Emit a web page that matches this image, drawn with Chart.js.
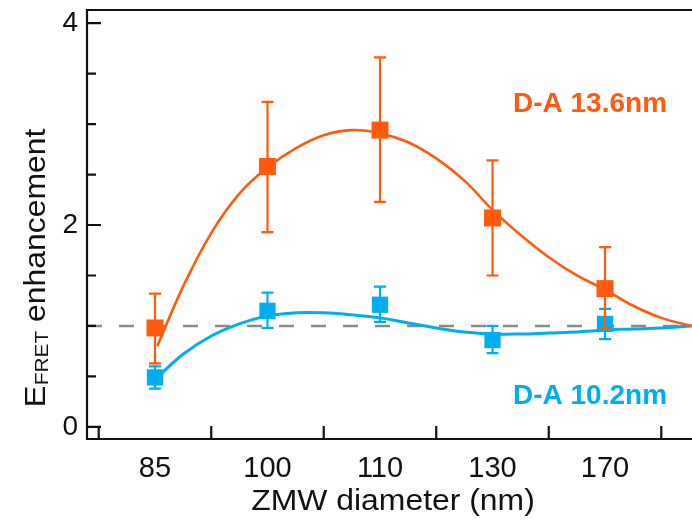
<!DOCTYPE html>
<html>
<head>
<meta charset="utf-8">
<script src="https://cdn.jsdelivr.net/npm/chart.js@4.4.1/dist/chart.umd.min.js"></script>
<style>
html,body{margin:0;padding:0;background:#fff;overflow:hidden;}
canvas{display:block;}
</style>
</head>
<body>
<canvas id="c" width="692" height="527"></canvas>
<script>
// ---- Data ----
const categories = ['85', '100', '110', '130', '170'];
const categoryPos = [0, 1, 2, 3, 4];

// D-A 13.6 nm (orange)
const orangeY  = [0.98, 2.58, 2.94, 2.07, 1.37];
const orangeLo = [0.63, 1.93, 2.23, 1.50, 0.97];
const orangeHi = [1.32, 3.22, 3.66, 2.64, 1.78];
// fitted curve at evenly spaced positions
const orangeFitX = [0.02, 0.25, 0.50, 0.75, 1.00, 1.25, 1.50, 1.75, 2.00, 2.25, 2.50, 2.75, 3.00, 3.25, 3.50, 3.75, 4.00, 4.25, 4.50, 4.77];
const orangeFitY = [0.80, 1.39, 1.92, 2.31, 2.57, 2.76, 2.89, 2.94, 2.91, 2.82, 2.66, 2.44, 2.15, 1.90, 1.68, 1.50, 1.36, 1.20, 1.08, 1.00];

// D-A 10.2 nm (blue)
const blueY  = [0.49, 1.15, 1.21, 0.86, 1.02];
const blueLo = [0.38, 0.98, 1.04, 0.73, 0.87];
const blueHi = [0.60, 1.33, 1.39, 1.00, 1.17];
const blueFitX = [0.02, 0.25, 0.50, 0.75, 1.00, 1.25, 1.50, 1.75, 2.00, 2.25, 2.50, 2.75, 3.00, 3.25, 3.50, 3.75, 4.00, 4.25, 4.50, 4.77];
const blueFitY = [0.49, 0.72, 0.90, 1.02, 1.10, 1.13, 1.13, 1.11, 1.08, 1.03, 0.98, 0.94, 0.92, 0.92, 0.93, 0.94, 0.96, 0.97, 0.98, 1.00];

const refLevel = 1;
const yTickLabels = [0, 2, 4];
const yMinorStep = 0.5;

const ORANGE = '#FF5A0E';
const BLUE = '#00AEEF';
const FONT = '"Liberation Sans", Arial, Helvetica, sans-serif';

const X_MIN = -0.604, X_MAX = 4.773;
const Y_MIN = -0.12, Y_MAX = 4.13;

const pts = (xs, ys) => xs.map((x, i) => ({x, y: ys[i]}));

const errorBars = {
  id: 'errorBars',
  beforeDatasetDraw(chart, args) {
    const ds = chart.data.datasets[args.index];
    if (!ds.err) return;
    const {ctx, scales: {x, y}} = chart;
    ctx.save();
    ctx.strokeStyle = ds.borderColor;
    ctx.lineWidth = 2.2;
    ds.err.lo.forEach((lo, i) => {
      const px = x.getPixelForValue(ds.data[i].x);
      const pLo = y.getPixelForValue(lo);
      const pHi = y.getPixelForValue(ds.err.hi[i]);
      ctx.beginPath();
      ctx.moveTo(px, pLo); ctx.lineTo(px, pHi);
      ctx.moveTo(px - 6, pLo); ctx.lineTo(px + 6, pLo);
      ctx.moveTo(px - 6, pHi); ctx.lineTo(px + 6, pHi);
      ctx.stroke();
    });
    ctx.restore();
  }
};

const frame = {
  id: 'frame',
  afterDraw(chart) {
    const {ctx, chartArea: a, scales: {x, y}} = chart;
    ctx.save();
    ctx.strokeStyle = '#111';
    ctx.lineWidth = 2.2;
    ctx.beginPath();
    ctx.moveTo(a.right + 2, a.top);
    ctx.lineTo(a.left, a.top);
    ctx.lineTo(a.left, a.bottom);
    ctx.lineTo(a.right + 2, a.bottom);
    ctx.stroke();
    // y ticks (inward)
    ctx.beginPath();
    for (let v = 0; v <= 4 + 1e-9; v += yMinorStep) {
      const py = y.getPixelForValue(v);
      const major = yTickLabels.includes(v);
      ctx.moveTo(a.left, py);
      ctx.lineTo(a.left + (major ? 14 : 9), py);
    }
    // x ticks between categories (inward)
    for (let v = -0.5; v <= 4.5 + 1e-9; v += 1) {
      const px = x.getPixelForValue(v);
      ctx.moveTo(px, a.bottom);
      ctx.lineTo(px, a.bottom - 13);
    }
    ctx.stroke();

    // labels for series
    ctx.font = 'bold 28px ' + FONT;
    ctx.textBaseline = 'middle';
    ctx.textAlign = 'left';
    ctx.fillStyle = ORANGE;
    ctx.fillText('D-A 13.6nm', 513, 104);
    ctx.fillStyle = BLUE;
    ctx.fillText('D-A 10.2nm', 513, 396);

    // x title (slightly wide lettering)
    ctx.fillStyle = '#111';
    ctx.save();
    ctx.translate(393, 502);
    ctx.scale(1.1, 1);
    ctx.font = '29px ' + FONT;
    ctx.textAlign = 'center';
    ctx.fillText('ZMW diameter (nm)', 0, 0);
    ctx.restore();

    // y title with subscript
    ctx.save();
    ctx.translate(45, 268);
    ctx.rotate(-Math.PI / 2);
    ctx.scale(1.1, 1);
    ctx.textBaseline = 'alphabetic';
    ctx.textAlign = 'left';
    const fBig = '30px ' + FONT, fSub = '19px ' + FONT, fMain = '29px ' + FONT;
    ctx.font = fBig; const wE = ctx.measureText('E').width;
    ctx.font = fSub; const wF = ctx.measureText('FRET').width;
    ctx.font = fMain; const wR = ctx.measureText(' enhancement').width;
    let sx = -(wE + wF + wR) / 2;
    ctx.font = fBig; ctx.fillText('E', sx, 0); sx += wE;
    ctx.font = fSub; ctx.fillText('FRET', sx, 3); sx += wF;
    ctx.font = fMain; ctx.fillText(' enhancement', sx, 0);
    ctx.restore();
    ctx.restore();
  }
};

const noPad = s => { s.paddingLeft = 0; s.paddingRight = 0; s.paddingTop = 0; s.paddingBottom = 0; };

new Chart(document.getElementById('c'), {
  type: 'line',
  data: {
    datasets: [
      { label: 'orangeFit', data: pts(orangeFitX, orangeFitY), borderColor: ORANGE, borderWidth: 2.6,
        pointRadius: 0, tension: 0.4, fill: false },
      { label: 'orange', data: pts(categoryPos, orangeY), showLine: false, borderColor: ORANGE,
        backgroundColor: ORANGE, pointStyle: 'rect', pointRadius: 12, pointBorderWidth: 0,
        err: {lo: orangeLo, hi: orangeHi} },
      { label: 'blueFit', data: pts(blueFitX, blueFitY), borderColor: BLUE, borderWidth: 3,
        pointRadius: 0, tension: 0.4, fill: false },
      { label: 'blue', data: pts(categoryPos, blueY), showLine: false, borderColor: BLUE,
        backgroundColor: BLUE, pointStyle: 'rect', pointRadius: 11.5, pointBorderWidth: 0,
        err: {lo: blueLo, hi: blueHi} },
      { label: 'ref', data: [{x: X_MIN, y: refLevel}, {x: X_MAX, y: refLevel}], borderColor: '#8a8a8a',
        borderWidth: 2.5, borderDash: [15, 17], pointRadius: 0, fill: false }
    ]
  },
  options: {
    responsive: false,
    animation: false,
    events: [],
    layout: { autoPadding: false, padding: { top: 10, left: 0, right: 0, bottom: 0 } },
    plugins: { legend: { display: false }, tooltip: { enabled: false }, title: { display: false } },
    scales: {
      x: {
        type: 'linear', min: X_MIN, max: X_MAX,
        grid: { display: false, drawTicks: false }, border: { display: false },
        afterBuildTicks: s => { s.ticks = categoryPos.map(v => ({value: v})); },
        afterFit: s => { s.height = 88; noPad(s); },
        ticks: { padding: 13, color: '#111', font: { family: FONT, size: 29 },
          callback: v => categories[v] ?? '' , maxRotation: 0, autoSkip: false }
      },
      y: {
        type: 'linear', min: Y_MIN, max: Y_MAX,
        grid: { display: false, drawTicks: false }, border: { display: false },
        afterBuildTicks: s => { s.ticks = yTickLabels.map(v => ({value: v})); },
        afterFit: s => { s.width = 87; noPad(s); },
        ticks: { padding: 9, color: '#111', font: { family: FONT, size: 28 } }
      }
    }
  },
  plugins: [errorBars, frame]
});
</script>
</body>
</html>
